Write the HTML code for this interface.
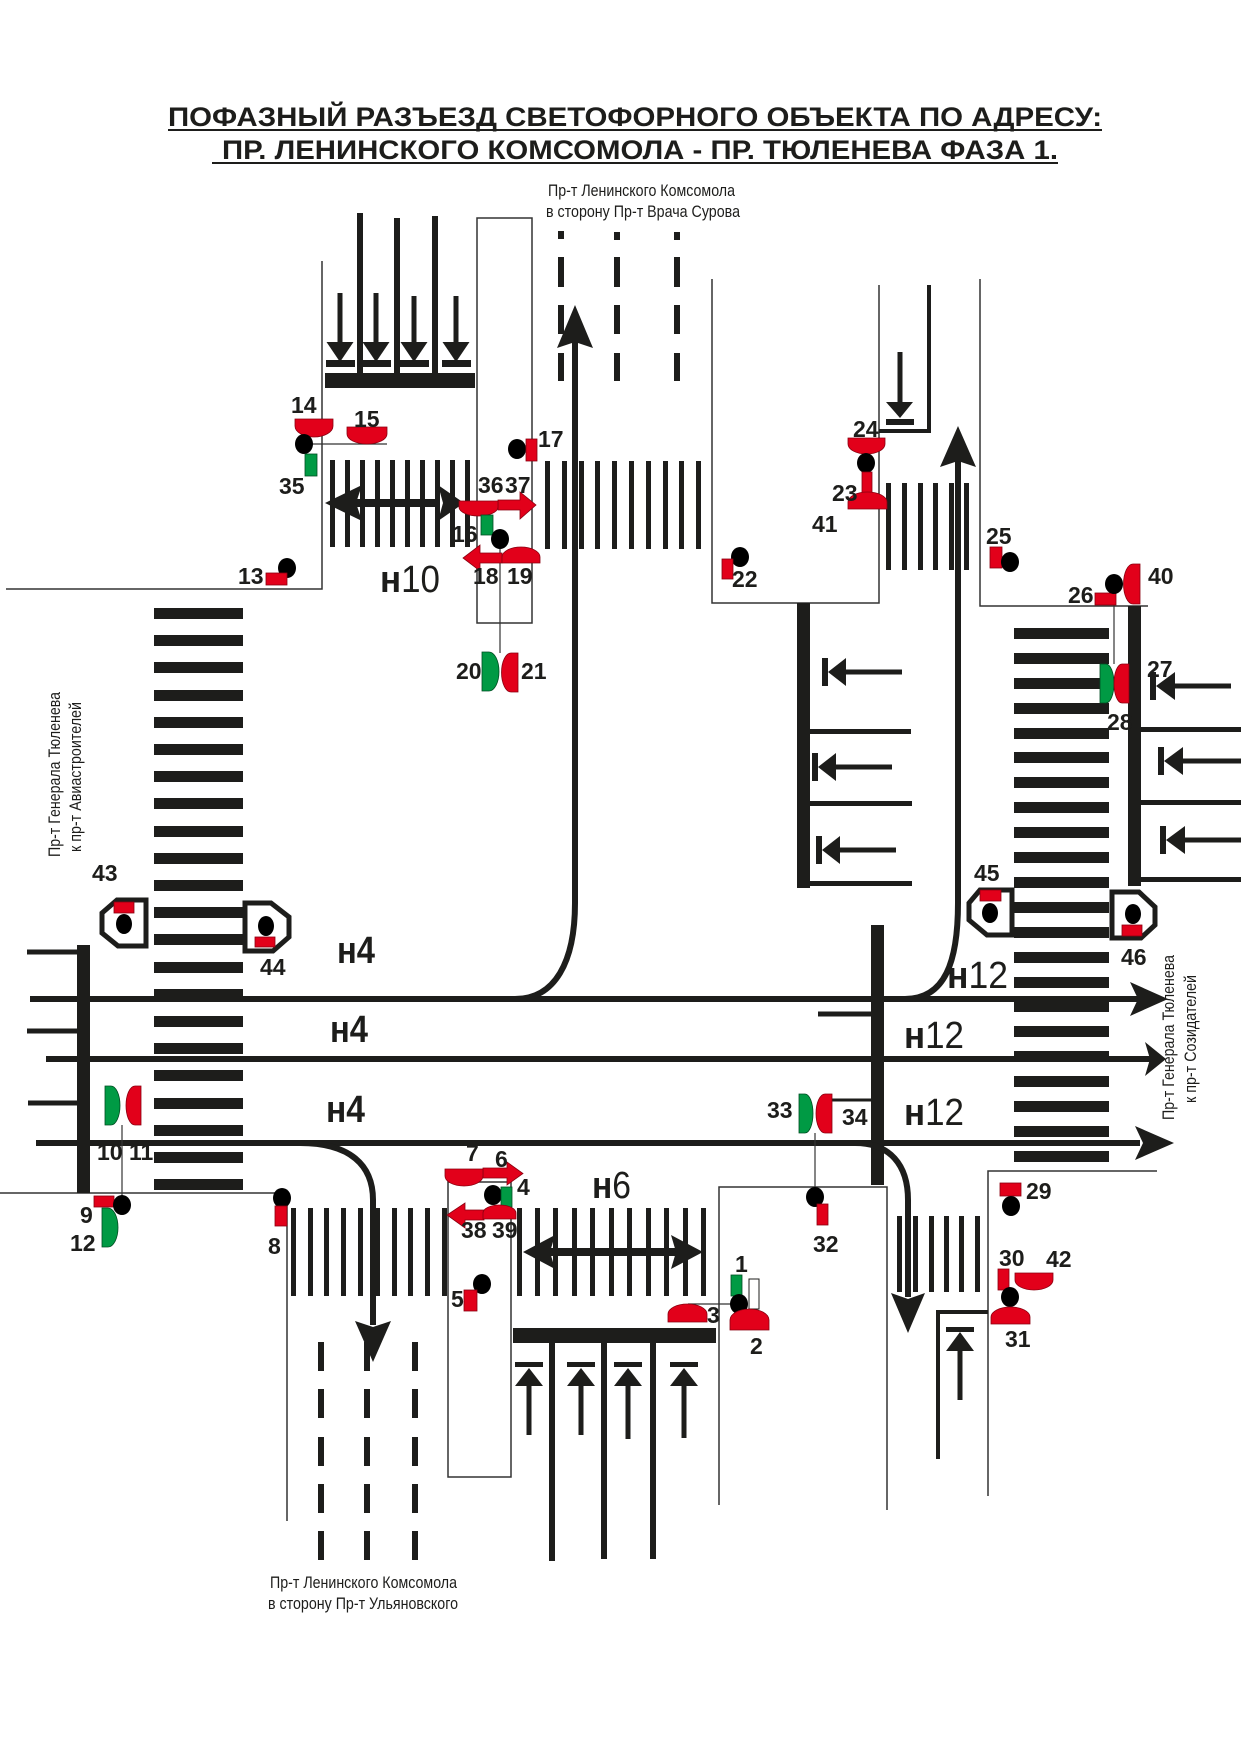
<!DOCTYPE html>
<html><head><meta charset="utf-8"><style>
html,body{margin:0;padding:0;background:#fff;}
svg{display:block;}
.n{font-family:"Liberation Sans",Arial,sans-serif;font-weight:bold;font-size:23px;fill:#1d1d1b;}
.h{font-family:"Liberation Sans",Arial,sans-serif;font-size:38px;fill:#1d1d1b;}
.r{font-family:"Liberation Sans",Arial,sans-serif;font-size:17px;fill:#1d1d1b;}
.red{fill:#e2001a;stroke:#8a0010;stroke-width:0.8;}
.grn{fill:#009a44;stroke:#004d22;stroke-width:0.8;}
.thin{stroke:#333;stroke-width:1.5;fill:none;}
.ln{stroke:#1d1d1b;fill:none;}
</style></head><body>
<svg width="1241" height="1754" viewBox="0 0 1241 1754" xmlns="http://www.w3.org/2000/svg">
<rect width="1241" height="1754" fill="#fff"/>

<!-- Title -->
<text x="168" y="126" textLength="934" lengthAdjust="spacingAndGlyphs" font-family="Liberation Sans, Arial, sans-serif" font-weight="bold" font-size="27" fill="#1d1d1b">ПОФАЗНЫЙ РАЗЪЕЗД СВЕТОФОРНОГО ОБЪЕКТА ПО АДРЕСУ:</text>
<line x1="168" y1="130" x2="1102" y2="130" stroke="#1d1d1b" stroke-width="2"/>
<text x="222" y="159" textLength="836" lengthAdjust="spacingAndGlyphs" font-family="Liberation Sans, Arial, sans-serif" font-weight="bold" font-size="27" fill="#1d1d1b">ПР. ЛЕНИНСКОГО КОМСОМОЛА - ПР. ТЮЛЕНЕВА ФАЗА 1.</text>
<line x1="212" y1="163" x2="1058" y2="163" stroke="#1d1d1b" stroke-width="2"/>

<!-- Road names -->
<text class="r" x="548" y="196" textLength="187" lengthAdjust="spacingAndGlyphs">Пр-т Ленинского Комсомола</text>
<text class="r" x="546" y="217" textLength="194" lengthAdjust="spacingAndGlyphs">в сторону Пр-т Врача Сурова</text>
<text class="r" x="270" y="1588" textLength="187" lengthAdjust="spacingAndGlyphs">Пр-т Ленинского Комсомола</text>
<text class="r" x="268" y="1609" textLength="190" lengthAdjust="spacingAndGlyphs">в сторону Пр-т Ульяновского</text>
<text class="r" transform="translate(60,857) rotate(-90)" x="0" y="0" textLength="165" lengthAdjust="spacingAndGlyphs">Пр-т Генерала Тюленева</text>
<text class="r" transform="translate(81,852) rotate(-90)" x="0" y="0" textLength="150" lengthAdjust="spacingAndGlyphs">к пр-т Авиастроителей</text>

<!-- thin road boundaries -->
<g class="thin">
<polyline points="6,589 322,589 322,261"/>
<rect x="477" y="218" width="55" height="405"/>
<polyline points="712,279 712,603 879,603 879,285"/>
<polyline points="980,279 980,606 1148,606"/>
<polyline points="0,1193 287,1193 287,1521"/>
<rect x="448" y="1182" width="63" height="295"/>
<polyline points="719,1505 719,1187 887,1187 887,1510"/>
<polyline points="1157,1171 988,1171 988,1496"/>
</g>

<!-- crosswalks -->
<g fill="#1d1d1b">
<rect x="330" y="460" width="5" height="87"/><rect x="345" y="460" width="5" height="87"/><rect x="360" y="460" width="5" height="87"/><rect x="375" y="460" width="5" height="87"/><rect x="390" y="460" width="5" height="87"/><rect x="405" y="460" width="5" height="87"/><rect x="420" y="460" width="5" height="87"/><rect x="435" y="460" width="5" height="87"/><rect x="450" y="460" width="5" height="87"/><rect x="465" y="460" width="5" height="87"/>
<rect x="545" y="461" width="5" height="88"/><rect x="562" y="461" width="5" height="88"/><rect x="579" y="461" width="5" height="88"/><rect x="595" y="461" width="5" height="88"/><rect x="612" y="461" width="5" height="88"/><rect x="629" y="461" width="5" height="88"/><rect x="646" y="461" width="5" height="88"/><rect x="663" y="461" width="5" height="88"/><rect x="679" y="461" width="5" height="88"/><rect x="696" y="461" width="5" height="88"/>
<rect x="886" y="483" width="5" height="87"/><rect x="902" y="483" width="5" height="87"/><rect x="918" y="483" width="5" height="87"/><rect x="933" y="483" width="5" height="87"/><rect x="949" y="483" width="5" height="87"/><rect x="964" y="483" width="5" height="87"/>
<rect x="154" y="608" width="89" height="11"/><rect x="154" y="635" width="89" height="11"/><rect x="154" y="662" width="89" height="11"/><rect x="154" y="690" width="89" height="11"/><rect x="154" y="717" width="89" height="11"/><rect x="154" y="744" width="89" height="11"/><rect x="154" y="771" width="89" height="11"/><rect x="154" y="798" width="89" height="11"/><rect x="154" y="826" width="89" height="11"/><rect x="154" y="853" width="89" height="11"/><rect x="154" y="880" width="89" height="11"/><rect x="154" y="907" width="89" height="11"/><rect x="154" y="934" width="89" height="11"/><rect x="154" y="962" width="89" height="11"/><rect x="154" y="989" width="89" height="11"/><rect x="154" y="1016" width="89" height="11"/><rect x="154" y="1043" width="89" height="11"/><rect x="154" y="1070" width="89" height="11"/><rect x="154" y="1098" width="89" height="11"/><rect x="154" y="1125" width="89" height="11"/><rect x="154" y="1152" width="89" height="11"/><rect x="154" y="1179" width="89" height="11"/>
<rect x="1014" y="628" width="95" height="11"/><rect x="1014" y="653" width="95" height="11"/><rect x="1014" y="678" width="95" height="11"/><rect x="1014" y="703" width="95" height="11"/><rect x="1014" y="728" width="95" height="11"/><rect x="1014" y="752" width="95" height="11"/><rect x="1014" y="777" width="95" height="11"/><rect x="1014" y="802" width="95" height="11"/><rect x="1014" y="827" width="95" height="11"/><rect x="1014" y="852" width="95" height="11"/><rect x="1014" y="877" width="95" height="11"/><rect x="1014" y="902" width="95" height="11"/><rect x="1014" y="927" width="95" height="11"/><rect x="1014" y="952" width="95" height="11"/><rect x="1014" y="977" width="95" height="11"/><rect x="1014" y="1001" width="95" height="11"/><rect x="1014" y="1026" width="95" height="11"/><rect x="1014" y="1051" width="95" height="11"/><rect x="1014" y="1076" width="95" height="11"/><rect x="1014" y="1101" width="95" height="11"/><rect x="1014" y="1126" width="95" height="11"/><rect x="1014" y="1151" width="95" height="11"/>
<rect x="291" y="1208" width="5" height="88"/><rect x="308" y="1208" width="5" height="88"/><rect x="324" y="1208" width="5" height="88"/><rect x="341" y="1208" width="5" height="88"/><rect x="358" y="1208" width="5" height="88"/><rect x="375" y="1208" width="5" height="88"/><rect x="392" y="1208" width="5" height="88"/><rect x="408" y="1208" width="5" height="88"/><rect x="425" y="1208" width="5" height="88"/><rect x="442" y="1208" width="5" height="88"/>
<rect x="517" y="1208" width="5" height="88"/><rect x="535" y="1208" width="5" height="88"/><rect x="553" y="1208" width="5" height="88"/><rect x="572" y="1208" width="5" height="88"/><rect x="590" y="1208" width="5" height="88"/><rect x="609" y="1208" width="5" height="88"/><rect x="627" y="1208" width="5" height="88"/><rect x="646" y="1208" width="5" height="88"/><rect x="664" y="1208" width="5" height="88"/><rect x="683" y="1208" width="5" height="88"/><rect x="701" y="1208" width="5" height="88"/>
<rect x="897" y="1216" width="5" height="76"/><rect x="913" y="1216" width="5" height="76"/><rect x="929" y="1216" width="5" height="76"/><rect x="944" y="1216" width="5" height="76"/><rect x="959" y="1216" width="5" height="76"/><rect x="975" y="1216" width="5" height="76"/>
</g>

<!-- dashed lane lines -->
<g fill="#1d1d1b">
<rect x="558" y="231" width="6" height="8"/><rect x="558" y="257" width="6" height="30"/><rect x="558" y="305" width="6" height="29"/><rect x="558" y="353" width="6" height="28"/>
<rect x="614" y="232" width="6" height="8"/><rect x="614" y="257" width="6" height="30"/><rect x="614" y="305" width="6" height="29"/><rect x="614" y="353" width="6" height="28"/>
<rect x="674" y="232" width="6" height="8"/><rect x="674" y="257" width="6" height="30"/><rect x="674" y="305" width="6" height="29"/><rect x="674" y="353" width="6" height="28"/>
<rect x="318" y="1342" width="6" height="29"/><rect x="318" y="1389" width="6" height="29"/><rect x="318" y="1437" width="6" height="29"/><rect x="318" y="1484" width="6" height="29"/><rect x="318" y="1531" width="6" height="29"/>
<rect x="364" y="1342" width="6" height="29"/><rect x="364" y="1389" width="6" height="29"/><rect x="364" y="1437" width="6" height="29"/><rect x="364" y="1484" width="6" height="29"/><rect x="364" y="1531" width="6" height="29"/>
<rect x="412" y="1342" width="6" height="29"/><rect x="412" y="1389" width="6" height="29"/><rect x="412" y="1437" width="6" height="29"/><rect x="412" y="1484" width="6" height="29"/><rect x="412" y="1531" width="6" height="29"/>
</g>

<!-- top-left approach -->
<g fill="#1d1d1b">
<rect x="325" y="373" width="150" height="15"/>
<rect x="357" y="213" width="6" height="160"/>
<rect x="394" y="218" width="6" height="155"/>
<rect x="432" y="216" width="6" height="157"/>
<rect x="337.5" y="293" width="5" height="50"/><polygon points="326.5,342 353.5,342 340,362"/><rect x="326" y="360" width="29" height="7"/>
<rect x="373.5" y="293" width="5" height="50"/><polygon points="362.5,342 389.5,342 376,362"/><rect x="362" y="360" width="29" height="7"/>
<rect x="411.5" y="296" width="5" height="47"/><polygon points="400.5,342 427.5,342 414,362"/><rect x="400" y="360" width="29" height="7"/>
<rect x="453.5" y="296" width="5" height="47"/><polygon points="442.5,342 469.5,342 456,362"/><rect x="442" y="360" width="29" height="7"/>
</g>

<!-- top double arrow -->
<g fill="#1d1d1b">
<rect x="355" y="499" width="85" height="8"/>
<polygon points="325,503 362,485 356,503 362,521"/>
<polygon points="464,503 438,485 443,503 438,521"/>
</g>

<!-- top-right small approach -->
<polyline class="ln" stroke-width="4" points="929,285 929,431 879,431"/>
<g fill="#1d1d1b">
<rect x="897.5" y="352" width="5" height="51"/><polygon points="886,402 913,402 900,418"/><rect x="886" y="419" width="28" height="6"/>
</g>

<!-- middle-right left arrows block -->
<g fill="#1d1d1b">
<rect x="797" y="603" width="13" height="285"/>
<rect x="810" y="729" width="101" height="5"/><rect x="810" y="801" width="102" height="5"/><rect x="810" y="881" width="102" height="5"/>
<rect x="822" y="658" width="6" height="28"/><polygon points="828,672 846,658 846,686"/><rect x="845" y="669.5" width="57" height="5"/>
<rect x="812" y="753" width="6" height="28"/><polygon points="818,767 836,753 836,781"/><rect x="835" y="764.5" width="57" height="5"/>
<rect x="816" y="836" width="6" height="28"/><polygon points="822,850 840,836 840,864"/><rect x="839" y="847.5" width="57" height="5"/>
</g>

<!-- right block -->
<g fill="#1d1d1b">
<rect x="1128" y="606" width="13" height="280"/>
<rect x="1141" y="727" width="100" height="5"/><rect x="1141" y="800" width="100" height="5"/><rect x="1141" y="877" width="100" height="5"/>
<rect x="1150" y="672" width="6" height="28"/><polygon points="1156,686 1175,672 1175,700"/><rect x="1174" y="683.5" width="57" height="5"/>
<rect x="1158" y="747" width="6" height="28"/><polygon points="1164,761 1183,747 1183,775"/><rect x="1182" y="758.5" width="59" height="5"/>
<rect x="1160" y="826" width="6" height="28"/><polygon points="1166,840 1185,826 1185,854"/><rect x="1184" y="837.5" width="57" height="5"/>
</g>

<!-- left block -->
<g fill="#1d1d1b">
<rect x="77" y="945" width="13" height="248"/>
<rect x="27" y="949.5" width="50" height="5"/>
<rect x="27" y="1028.5" width="50" height="5"/>
<rect x="28" y="1100.5" width="50" height="5"/>
<rect x="871" y="925" width="13" height="260"/>
<rect x="818" y="1011.5" width="53" height="5"/>
</g>

<!-- main lanes -->
<g class="ln" stroke-width="6">
<line x1="30" y1="999" x2="1140" y2="999"/>
<line x1="46" y1="1059" x2="1150" y2="1059"/>
<line x1="36" y1="1143" x2="1140" y2="1143"/>
<path d="M575 340 L575 903 C575 962 555 999 515 999"/>
<path d="M958 460 L958 903 C958 962 945 999 905 999"/>
<path d="M300 1143 C350 1143 373 1165 373 1200 L373 1325"/>
<path d="M855 1143 C890 1143 908 1165 908 1200 L908 1297"/>
</g>
<g fill="#1d1d1b">
<polygon points="1168,999 1130,982 1138,999 1130,1016"/>
<polygon points="1166,1059 1145,1042 1150,1059 1145,1076"/>
<polygon points="1174,1143 1135,1126 1143,1143 1135,1160"/>
<polygon points="575,305 557,348 575,342 593,348"/>
<polygon points="958,426 940,467 958,461 976,467"/>
<polygon points="373,1362 355,1321 373,1327 391,1321"/>
<polygon points="908,1333 891,1293 908,1299 925,1293"/>
</g>

<!-- bottom approach -->
<g fill="#1d1d1b">
<rect x="513" y="1328" width="203" height="15"/>
<rect x="549" y="1343" width="6" height="218"/>
<rect x="601" y="1343" width="6" height="216"/>
<rect x="650" y="1343" width="6" height="216"/>
<rect x="515" y="1362" width="28" height="5"/><polygon points="529,1368 515,1386 543,1386"/><rect x="526.5" y="1385" width="5" height="50"/>
<rect x="567" y="1362" width="28" height="5"/><polygon points="581,1368 567,1386 595,1386"/><rect x="578.5" y="1385" width="5" height="50"/>
<rect x="614" y="1362" width="28" height="5"/><polygon points="628,1368 614,1386 642,1386"/><rect x="625.5" y="1385" width="5" height="54"/>
<rect x="670" y="1362" width="28" height="5"/><polygon points="684,1368 670,1386 698,1386"/><rect x="681.5" y="1385" width="5" height="53"/>
</g>
<!-- bottom double arrow -->
<g fill="#1d1d1b">
<rect x="545" y="1248" width="136" height="8"/>
<polygon points="523,1252 555,1235 550,1252 555,1269"/>
<polygon points="703,1252 671,1235 676,1252 671,1269"/>
</g>

<!-- bottom-right small approach -->
<polyline class="ln" stroke-width="4" points="938,1459 938,1312 988,1312"/>
<g fill="#1d1d1b">
<rect x="946" y="1327" width="28" height="5"/><polygon points="960,1332 946,1351 974,1351"/><rect x="957.5" y="1350" width="5" height="50"/>
</g>

<!-- connecting thin lines -->
<g stroke="#333" stroke-width="1.2" fill="none">
<line x1="304" y1="444" x2="387" y2="444"/>
<line x1="500" y1="539" x2="500" y2="653"/>
<line x1="1114" y1="584" x2="1114" y2="664"/>
<line x1="122" y1="1125" x2="122" y2="1205"/>
<line x1="688" y1="1304" x2="739" y2="1304"/>
<line x1="815" y1="1133" x2="815" y2="1197"/>
</g>
<line x1="832" y1="1100" x2="871" y2="1100" stroke="#1d1d1b" stroke-width="3"/>

<!-- pedestrian boxes -->
<g fill="#fff" stroke="#1d1d1b" stroke-width="5" stroke-linejoin="miter">
<polygon points="146,900 117,900 102,913 102,933 118,946 146,946"/>
<polygon points="245,903 271,903 289,917 289,937 273,951 245,951"/>
<polygon points="1012,890 980,890 969,903 969,920 987,935 1012,935"/>
<polygon points="1112,892 1139,892 1155,907 1155,925 1141,938 1112,938"/>
</g>
<g>
<rect class="red" x="114" y="902" width="20" height="11"/><ellipse cx="124" cy="924" rx="8" ry="10" fill="#000"/>
<ellipse cx="266" cy="926" rx="8" ry="10" fill="#000"/><rect class="red" x="255" y="937" width="20" height="10"/>
<rect class="red" x="980" y="890" width="21" height="11"/><ellipse cx="990" cy="913" rx="8" ry="10" fill="#000"/>
<ellipse cx="1133" cy="914" rx="8" ry="10" fill="#000"/><rect class="red" x="1122" y="925" width="20" height="11"/>
</g>

<!-- signals -->
<g>
<!-- 14,15,35 -->
<path class="red" d="M295 419 H333 V426 A19 11 0 0 1 295 426 Z"/>
<path class="red" d="M347 427 H387 V434 A20 10 0 0 1 347 434 Z"/>
<ellipse cx="304" cy="444" rx="9" ry="10" fill="#000"/>
<rect class="grn" x="305" y="454" width="12" height="22"/>
<!-- 13 -->
<ellipse cx="287" cy="568" rx="9" ry="10" fill="#000"/>
<rect class="red" x="266" y="573" width="21" height="12"/>
<!-- 17 -->
<ellipse cx="517" cy="449" rx="9" ry="10" fill="#000"/>
<rect class="red" x="526" y="439" width="11" height="22"/>
<!-- 36,37,16,18,19 -->
<path class="red" d="M498 500 H520 V492 L536 505 L520 519 V510 H498 Z"/>
<path class="red" d="M459 501 H498 V507 A19.5 9 0 0 1 459 507 Z"/>
<rect class="grn" x="481" y="515" width="12" height="20"/>
<ellipse cx="500" cy="539" rx="9" ry="10" fill="#000"/>
<path class="red" d="M502 553 H480 V545 L463 558 L480 571 V563 H502 Z"/>
<path class="red" d="M502 563 H540 V557 A19 10 0 0 0 502 557 Z"/>
<!-- 20,21 -->
<path class="grn" d="M482 652 H489 A10 19.5 0 0 1 489 691 H482 Z"/>
<path class="red" d="M518 653 H511 A9.5 19.5 0 0 0 511 692 H518 Z"/>
<!-- 22 -->
<ellipse cx="740" cy="557" rx="9" ry="10" fill="#000"/>
<rect class="red" x="722" y="559" width="11" height="20"/>
<!-- 24,23 -->
<path class="red" d="M848 438 H885 V444 A18.5 10 0 0 1 848 444 Z"/>
<ellipse cx="866" cy="463" rx="9" ry="10" fill="#000"/>
<rect class="red" x="862" y="472" width="10" height="22"/>
<path class="red" d="M848 509 H887 V502 A19.5 10 0 0 0 848 502 Z"/>
<!-- 25 -->
<rect class="red" x="990" y="547" width="12" height="21"/>
<ellipse cx="1010" cy="562" rx="9" ry="10" fill="#000"/>
<!-- 26,40 -->
<rect class="red" x="1095" y="593" width="21" height="12"/>
<ellipse cx="1114" cy="584" rx="9" ry="10" fill="#000"/>
<path class="red" d="M1140 564 H1133 A9.5 20 0 0 0 1133 604 H1140 Z"/>
<!-- 27,28 -->
<path class="grn" d="M1100 664 H1106 A8 19.5 0 0 1 1106 703 H1100 Z"/>
<path class="red" d="M1129 664 H1122 A8 19.5 0 0 0 1122 703 H1129 Z"/>
<!-- 10,11 -->
<path class="grn" d="M105 1086 H111 A9 19.5 0 0 1 111 1125 H105 Z"/>
<path class="red" d="M141 1086 H135 A9 19.5 0 0 0 135 1125 H141 Z"/>
<!-- 9,12 -->
<rect class="red" x="94" y="1196" width="20" height="11"/>
<ellipse cx="122" cy="1205" rx="9" ry="10" fill="#000"/>
<path class="grn" d="M102 1208 H108 A10 19.5 0 0 1 108 1247 H102 Z"/>
<!-- 8 -->
<ellipse cx="282" cy="1198" rx="9" ry="10" fill="#000"/>
<rect class="red" x="275" y="1206" width="12" height="20"/>
<!-- 7,6,4 -->
<path class="red" d="M483 1168 H507 V1162 L523 1173.5 L507 1185 V1178 H483 Z"/>
<path class="red" d="M445 1169 H483 V1176 A19 10 0 0 1 445 1176 Z"/>
<ellipse cx="493" cy="1195" rx="9" ry="10" fill="#000"/>
<rect class="grn" x="501" y="1187" width="11" height="20"/>
<!-- 38,39 -->
<path class="red" d="M484 1210 H465 V1203 L447 1215 L465 1228 V1220 H484 Z"/>
<path class="red" d="M483 1219 H516 V1213 A16.5 8 0 0 0 483 1213 Z"/>
<!-- 5 -->
<ellipse cx="482" cy="1284" rx="9" ry="10" fill="#000"/>
<rect class="red" x="464" y="1290" width="13" height="21"/>
<!-- 3,1,2 -->
<path class="red" d="M668 1322 H707 V1314 A19.5 10 0 0 0 668 1314 Z"/>
<rect class="grn" x="731" y="1275" width="11" height="21"/>
<rect x="749" y="1279" width="10" height="30" fill="#fff" stroke="#1d1d1b" stroke-width="1"/>
<ellipse cx="739" cy="1304" rx="9" ry="10" fill="#000"/>
<path class="red" d="M730 1330 H769 V1320 A19.5 11 0 0 0 730 1320 Z"/>
<!-- 33,34,32 -->
<path class="grn" d="M799 1094 H805 A8 19.5 0 0 1 805 1133 H799 Z"/>
<path class="red" d="M832 1094 H825 A9 19.5 0 0 0 825 1133 H832 Z"/>
<ellipse cx="815" cy="1197" rx="9" ry="10" fill="#000"/>
<rect class="red" x="817" y="1204" width="11" height="21"/>
<!-- 29,30,42,31 -->
<rect class="red" x="1000" y="1183" width="21" height="13"/>
<ellipse cx="1011" cy="1206" rx="9" ry="10" fill="#000"/>
<rect class="red" x="998" y="1269" width="11" height="21"/>
<path class="red" d="M1015 1273 H1053 V1280 A19 10 0 0 1 1015 1280 Z"/>
<ellipse cx="1010" cy="1297" rx="9" ry="10" fill="#000"/>
<path class="red" d="M991 1324 H1030 V1317 A19.5 10 0 0 0 991 1317 Z"/>
</g>

<!-- Phase labels -->
<text class="h" x="380" y="592" textLength="60" lengthAdjust="spacingAndGlyphs"><tspan font-weight="bold">н</tspan>10</text>
<text class="h" x="337" y="963" textLength="38" lengthAdjust="spacingAndGlyphs" font-weight="bold">н4</text>
<text class="h" x="330" y="1042" textLength="38" lengthAdjust="spacingAndGlyphs" font-weight="bold">н4</text>
<text class="h" x="326" y="1122" textLength="39" lengthAdjust="spacingAndGlyphs" font-weight="bold">н4</text>
<text class="h" x="947" y="988" textLength="61" lengthAdjust="spacingAndGlyphs"><tspan font-weight="bold">н</tspan>12</text>
<text class="h" x="904" y="1048" textLength="60" lengthAdjust="spacingAndGlyphs"><tspan font-weight="bold">н</tspan>12</text>
<text class="h" x="904" y="1125" textLength="60" lengthAdjust="spacingAndGlyphs"><tspan font-weight="bold">н</tspan>12</text>
<text class="h" x="592" y="1198" textLength="39" lengthAdjust="spacingAndGlyphs"><tspan font-weight="bold">н</tspan>6</text>

<!-- Number labels -->
<g class="n">
<text x="291" y="413">14</text>
<text x="354" y="427">15</text>
<text x="279" y="494">35</text>
<text x="238" y="584">13</text>
<text x="538" y="447">17</text>
<text x="478" y="493">36</text>
<text x="505" y="493">37</text>
<text x="452" y="542">16</text>
<text x="473" y="584">18</text>
<text x="507" y="584">19</text>
<text x="456" y="679">20</text>
<text x="521" y="679">21</text>
<text x="732" y="587">22</text>
<text x="853" y="437">24</text>
<text x="832" y="501">23</text>
<text x="812" y="532">41</text>
<text x="986" y="544">25</text>
<text x="1068" y="603">26</text>
<text x="1148" y="584">40</text>
<text x="1147" y="677">27</text>
<text x="1107" y="730">28</text>
<text x="92" y="881">43</text>
<text x="260" y="975">44</text>
<text x="974" y="881">45</text>
<text x="1121" y="965">46</text>
<text x="97" y="1160">10</text>
<text x="129" y="1160">11</text>
<text x="80" y="1223">9</text>
<text x="70" y="1251">12</text>
<text x="268" y="1254">8</text>
<text x="466" y="1161">7</text>
<text x="495" y="1167">6</text>
<text x="517" y="1195">4</text>
<text x="461" y="1238">38</text>
<text x="492" y="1238">39</text>
<text x="451" y="1307">5</text>
<text x="735" y="1272">1</text>
<text x="707" y="1323">3</text>
<text x="750" y="1354">2</text>
<text x="813" y="1252">32</text>
<text x="767" y="1118">33</text>
<text x="842" y="1125">34</text>
<text x="1026" y="1199">29</text>
<text x="999" y="1266">30</text>
<text x="1046" y="1267">42</text>
<text x="1005" y="1347">31</text>
</g>

<!-- right vertical road name (drawn over arrows) -->
<text class="r" transform="translate(1174,1120) rotate(-90)" x="0" y="0" textLength="165" lengthAdjust="spacingAndGlyphs">Пр-т Генерала Тюленева</text>
<text class="r" transform="translate(1196,1103) rotate(-90)" x="0" y="0" textLength="128" lengthAdjust="spacingAndGlyphs">к пр-т Созидателей</text>
</svg>
</body></html>
